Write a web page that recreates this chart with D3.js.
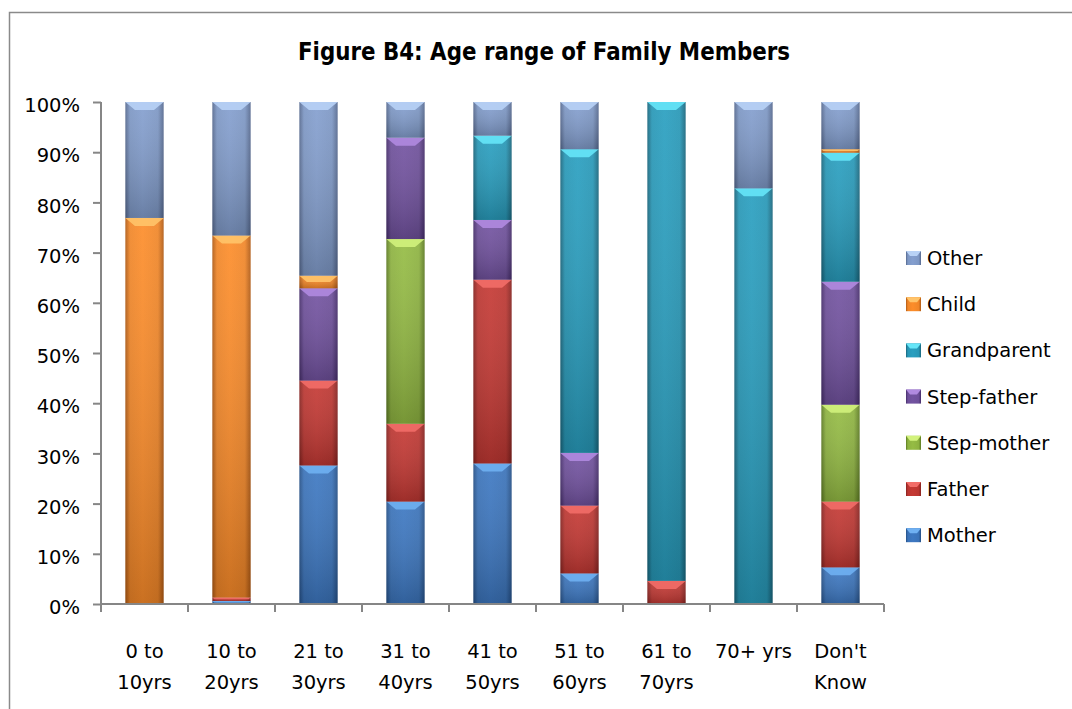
<!DOCTYPE html>
<html>
<head>
<meta charset="utf-8">
<script src="https://cdn.jsdelivr.net/npm/d3@7"></script>
<style>
  body { margin: 0; background: #fff; }
  text { font-family: "DejaVu Sans", sans-serif; fill: #000; }
</style>
</head>
<body>
<script>
// age bands (x categories), two-line labels
let categories = ['0 to 10yrs', '10 to 20yrs', '21 to 30yrs', '31 to 40yrs', '41 to 50yrs',
                  '51 to 60yrs', '61 to 70yrs', '70+ yrs', "Don't Know"];
let categoryLines = [['0 to', '10yrs'], ['10 to', '20yrs'], ['21 to', '30yrs'], ['31 to', '40yrs'],
                     ['41 to', '50yrs'], ['51 to', '60yrs'], ['61 to', '70yrs'], ['70+ yrs'], ["Don't", 'Know']];

// percentages per series (stacked bottom -> top)
let mother      = [0, 0.6, 27.6, 20.4, 28.0, 6.1, 0, 0, 7.3];
let father      = [0, 0.7, 16.9, 15.5, 36.6, 13.5, 4.6, 0, 13.1];
let stepMother  = [0, 0, 0, 36.8, 0, 0, 0, 0, 19.3];
let stepFather  = [0, 0, 18.4, 20.2, 11.9, 10.5, 0, 0, 24.5];
let grandparent = [0, 0, 0, 0, 16.8, 60.5, 95.4, 82.8, 25.7];
let child       = [76.9, 72.1, 2.5, 0, 0, 0, 0, 0, 0.7];
let other       = [23.1, 26.6, 34.6, 7.1, 6.7, 9.4, 0, 17.2, 9.4];

let seriesNames = ['Mother', 'Father', 'Step-mother', 'Step-father', 'Grandparent', 'Child', 'Other'];
let seriesValues = [mother, father, stepMother, stepFather, grandparent, child, other];
let yTicks = [0, 10, 20, 30, 40, 50, 60, 70, 80, 90, 100];

// base / highlight / edge colours for the bevelled look
let colors = {
  'Mother':      ['#3a72b8', '#6fb0f2', '#244f86'],
  'Father':      ['#bb3631', '#f26d68', '#85221f'],
  'Step-mother': ['#8db240', '#d2f27c', '#5c7a22'],
  'Step-father': ['#6d4f99', '#b08ae0', '#452d6a'],
  'Grandparent': ['#2797b6', '#66e6f8', '#19657c'],
  'Child':       ['#f08628', '#ffc46a', '#b05a14'],
  'Other':       ['#7d97c4', '#b8d2f6', '#56698f']
};

let width = 1072, height = 709;
let margin = {left: 101, right: 188, top: 102, bottom: 105};

let svg = d3.select('body').append('svg').attr('width', width).attr('height', height);

// frame of the chart area (runs off right and bottom)
svg.append('rect').attr('x', 9.5).attr('y', 12.5).attr('width', 1100).attr('height', 760)
   .attr('fill', 'none').attr('stroke', '#8a8a8a').attr('stroke-width', 1.5);

let defs = svg.append('defs');
seriesNames.forEach(function(name, i) {
  let c = colors[name];
  let g = defs.append('linearGradient').attr('id', 'grad' + i).attr('x1', '0%').attr('x2', '100%');
  g.append('stop').attr('offset', '0%').attr('stop-color', c[2]);
  g.append('stop').attr('offset', '12%').attr('stop-color', c[0]);
  g.append('stop').attr('offset', '45%').attr('stop-color', d3.color(c[0]).brighter(0.15));
  g.append('stop').attr('offset', '85%').attr('stop-color', c[0]);
  g.append('stop').attr('offset', '100%').attr('stop-color', c[2]);
  let v = defs.append('linearGradient').attr('id', 'shade' + i).attr('x1', '0%').attr('x2', '0%').attr('y1', '0%').attr('y2', '100%');
  v.append('stop').attr('offset', '0%').attr('stop-color', '#fff').attr('stop-opacity', 0.08);
  v.append('stop').attr('offset', '100%').attr('stop-color', '#000').attr('stop-opacity', 0.2);
});

let x = d3.scaleBand().domain(categories)
          .range([margin.left, width - margin.right])
          .paddingInner(0.56).paddingOuter(0.28);
let y = d3.scaleLinear().domain([0, 100]).range([height - margin.bottom, margin.top]);

// stacked data
let table = categories.map(function(c, j) {
  let row = {category: c};
  seriesNames.forEach(function(s, i) { row[s] = seriesValues[i][j]; });
  return row;
});
let stacked = d3.stack().keys(seriesNames)(table);

let layers = svg.selectAll('g.layer').data(stacked).enter().append('g').attr('class', 'layer');

let segs = layers.selectAll('g.seg')
  .data(function(d, i) { return d.map(function(p) { return {p: p, i: i, key: d.key}; }); })
  .enter().append('g').attr('class', 'seg')
  .filter(function(d) { return d.p[1] - d.p[0] > 0; });

segs.append('rect')
  .attr('x', function(d) { return x(d.p.data.category); })
  .attr('y', function(d) { return y(d.p[1]); })
  .attr('width', x.bandwidth())
  .attr('height', function(d) { return y(d.p[0]) - y(d.p[1]); })
  .attr('fill', function(d) { return 'url(#grad' + d.i + ')'; });

segs.append('rect')
  .attr('x', function(d) { return x(d.p.data.category); })
  .attr('y', function(d) { return y(d.p[1]); })
  .attr('width', x.bandwidth())
  .attr('height', function(d) { return y(d.p[0]) - y(d.p[1]); })
  .attr('fill', function(d) { return 'url(#shade' + d.i + ')'; });

// top bevel highlight
segs.append('path')
  .attr('d', function(d) {
    let x0 = x(d.p.data.category), w = x.bandwidth();
    let top = y(d.p[1]);
    let h = Math.min(8, (y(d.p[0]) - top) * 0.5);
    return 'M' + x0 + ',' + top + 'H' + (x0 + w) + 'L' + (x0 + w - h * 1.2) + ',' + (top + h) +
           'H' + (x0 + h * 1.2) + 'Z';
  })
  .attr('fill', function(d) { return colors[d.key][1]; })
  .attr('opacity', 0.9);

// y axis
let yAxis = svg.append('g').attr('transform', 'translate(' + margin.left + ',0)')
  .call(d3.axisLeft(y).tickValues(yTicks).tickSize(8).tickPadding(13)
        .tickFormat(function(d) { return d + '%'; }));
yAxis.selectAll('path, line').attr('stroke', '#868686').attr('stroke-width', 2);
yAxis.select('.domain').attr('d', 'M0,' + y(100) + 'V' + y(0));
yAxis.selectAll('text').attr('font-size', 19.5).attr('font-family', 'DejaVu Sans').attr('fill', '#000').attr('dy', '0.5em');

// x axis with ticks on category boundaries
let xAxis = svg.append('g').attr('transform', 'translate(0,' + y(0) + ')');
xAxis.append('line').attr('x1', margin.left).attr('x2', width - margin.right)
     .attr('stroke', '#868686').attr('stroke-width', 2);
let bounds = d3.range(categories.length + 1).map(function(k) { return margin.left + k * x.step(); });
xAxis.selectAll('line.tk').data(bounds).enter().append('line').attr('class', 'tk')
     .attr('x1', function(d) { return d; }).attr('x2', function(d) { return d; })
     .attr('y1', 0).attr('y2', 8).attr('stroke', '#868686').attr('stroke-width', 2);

let labels = svg.selectAll('text.cat').data(categories).enter().append('text').attr('class', 'cat')
  .attr('text-anchor', 'middle').attr('font-size', 19.5)
  .attr('x', function(d) { return x(d) + x.bandwidth() / 2; })
  .attr('y', 658);
labels.each(function(d, j) {
  let t = d3.select(this);
  categoryLines[j].forEach(function(line, k) {
    t.append('tspan').attr('x', x(d) + x.bandwidth() / 2).attr('y', 658 + k * 31).text(line);
  });
});

// title
svg.append('text').attr('x', 544).attr('y', 60).attr('text-anchor', 'middle')
   .attr('font-family', 'DejaVu Sans Condensed').attr('font-weight', 'bold').attr('font-size', 24)
   .attr('textLength', 492).attr('lengthAdjust', 'spacingAndGlyphs')
   .text('Figure B4: Age range of Family Members');

// legend, top entry is the top of the stack
let legendNames = seriesNames.slice().reverse();
let legend = svg.selectAll('g.legend').data(legendNames).enter().append('g').attr('class', 'legend')
  .attr('transform', function(d, i) { return 'translate(906,' + (258 + i * 46.2) + ')'; });
legend.append('rect').attr('x', 0).attr('y', -7).attr('width', 15).attr('height', 14)
  .attr('fill', function(d) { return 'url(#grad' + seriesNames.indexOf(d) + ')'; });
legend.append('path').attr('d', 'M0,-7H15L11,-2H4Z')
  .attr('fill', function(d) { return colors[d][1]; });
legend.append('text').attr('x', 21).attr('y', 0).attr('dy', '0.36em').attr('font-size', 19.5)
  .text(function(d) { return d; });
</script>
</body>
</html>
